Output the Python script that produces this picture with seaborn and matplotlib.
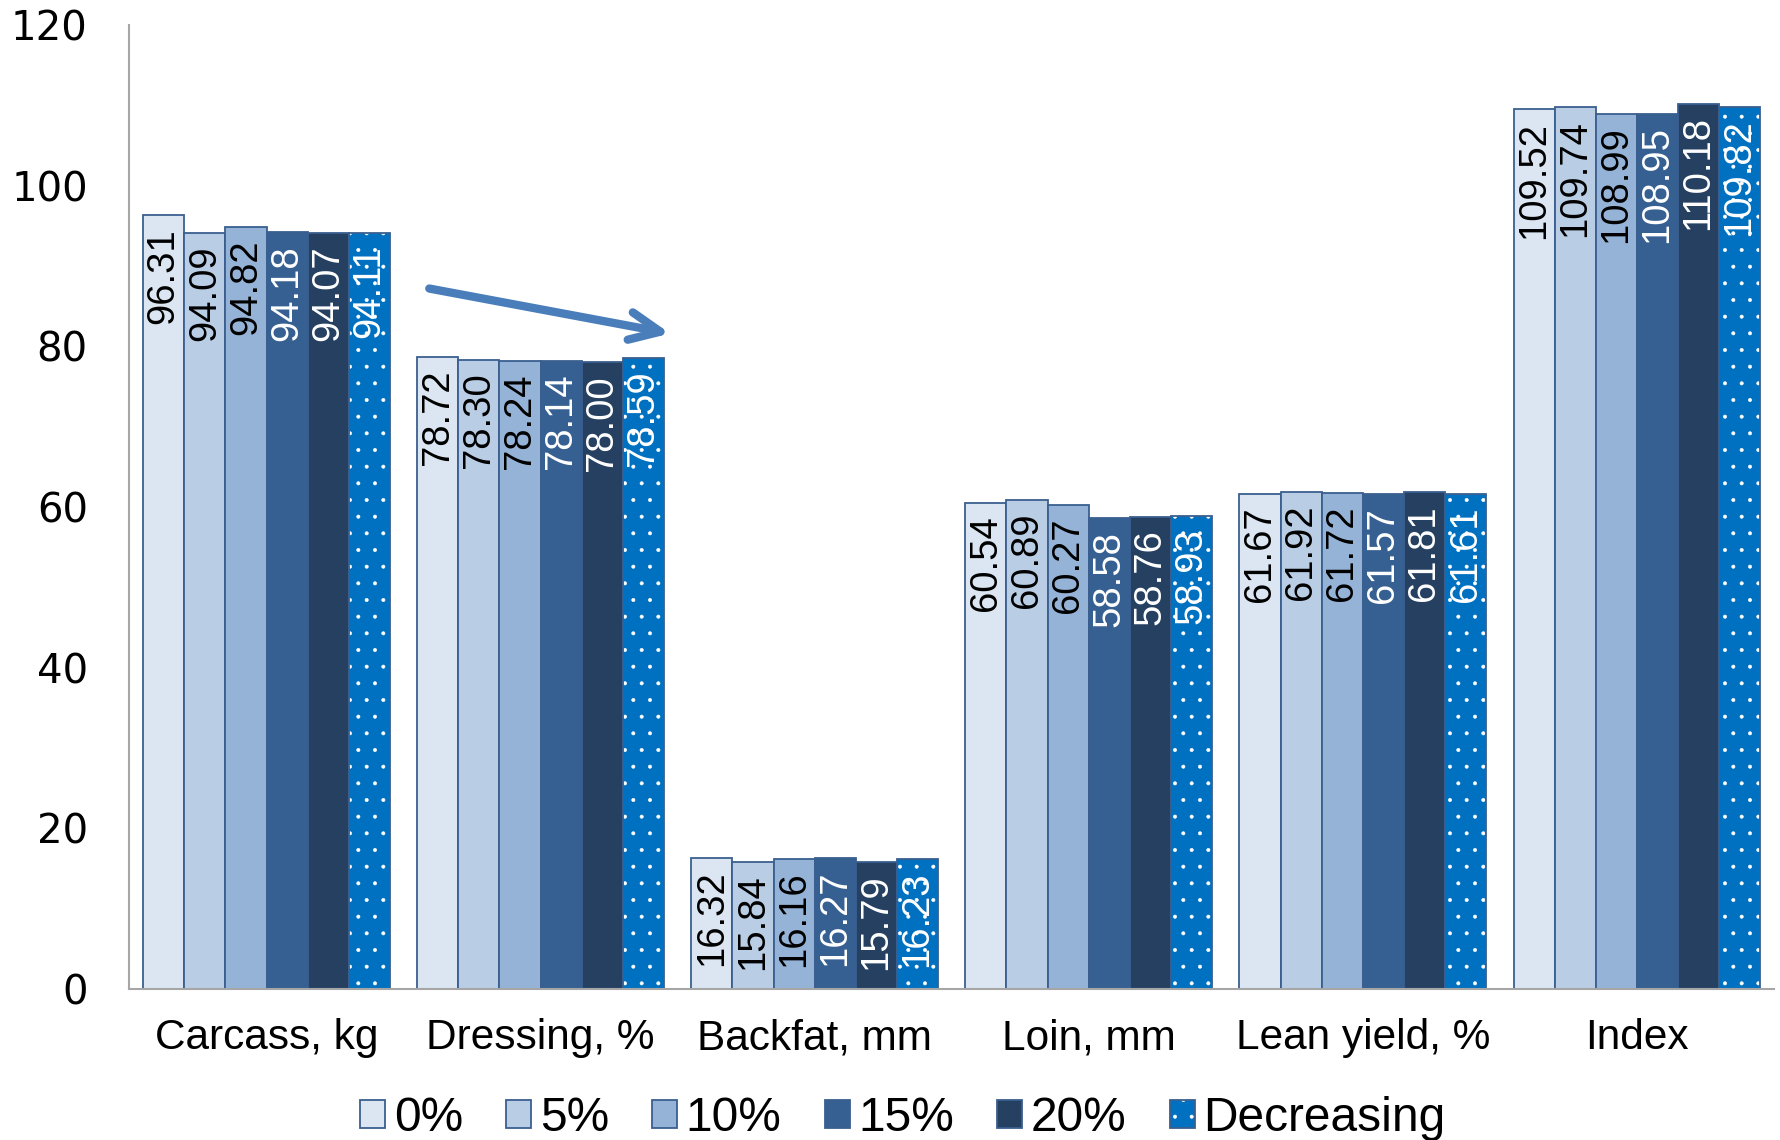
import matplotlib
matplotlib.use("Agg")
import matplotlib.pyplot as plt
from matplotlib.colors import to_rgba
import seaborn as sns
import pandas as pd

# Carcass traits by dietary level
traits = ["Carcass, kg", "Dressing, %", "Backfat, mm", "Loin, mm", "Lean yield, %", "Index"]
levels = ["0%", "5%", "10%", "15%", "20%", "Decreasing"]

carcass = [96.31, 94.09, 94.82, 94.18, 94.07, 94.11]
dressing = [78.72, 78.30, 78.24, 78.14, 78.00, 78.59]
backfat = [16.32, 15.84, 16.16, 16.27, 15.79, 16.23]
loin = [60.54, 60.89, 60.27, 58.58, 58.76, 58.93]
lean_yield = [61.67, 61.92, 61.72, 61.57, 61.81, 61.61]
index = [109.52, 109.74, 108.99, 108.95, 110.18, 109.82]

yticks = [0, 20, 40, 60, 80, 100, 120]

colors = ["#DCE6F2", "#B9CDE5", "#95B3D7", "#376092", "#254061", "#0070C0"]
label_colors = ["black", "black", "black", "white", "white", "white"]

series = [carcass, dressing, backfat, loin, lean_yield, index]
rows = []
for trait, vals in zip(traits, series):
    for lvl, v in zip(levels, vals):
        rows.append({"trait": trait, "level": lvl, "value": v})
df = pd.DataFrame(rows)

sns.set_theme(style="white")
plt.rcParams["font.family"] = ["Liberation Sans", "DejaVu Sans"]
plt.rcParams["text.color"] = "black"
plt.rcParams["xtick.color"] = "black"
plt.rcParams["ytick.color"] = "black"
plt.rcParams["hatch.color"] = "white"
plt.rcParams["hatch.linewidth"] = 0.4

fig = plt.figure(figsize=(17.81, 11.40), dpi=100)
ax = fig.add_axes([0.0727, 0.1325, 0.9233, 0.8455])

sns.barplot(data=df, x="trait", y="value", hue="level", order=traits,
            hue_order=levels, palette=colors, width=0.9, saturation=1,
            edgecolor="#3A5F8F", linewidth=1.3, ax=ax, errorbar=None)


def dot_fill(patch):
    """White dotted fill on top of the face colour."""
    patch.set_hatch(".")
    if hasattr(patch, "set_hatchcolor"):
        patch.set_hatchcolor("white")
    else:
        patch._hatch_color = to_rgba("white")


for p in ax.containers[-1]:
    dot_fill(p)

# value labels inside the bars, reading upward
label_font = ["Liberation Sans Narrow", "Liberation Sans", "DejaVu Sans"]
for ci, cont in enumerate(ax.containers):
    for p, v in zip(cont, [s[ci] for s in series]):
        ax.annotate(f"{v:.2f}", (p.get_x() + p.get_width() / 2, v),
                    xytext=(0, -9), textcoords="offset points",
                    rotation=90, ha="center", va="top",
                    fontsize=27.5, color=label_colors[ci], family=label_font)

# trend arrow over the dressing group
ax.annotate("", xy=(1.473, 81.6), xytext=(0.594, 87.2),
            arrowprops=dict(arrowstyle="->,head_length=1.1,head_width=0.5",
                            mutation_scale=20, color="#4A7EBB", lw=6,
                            shrinkA=0, shrinkB=0,
                            capstyle="round", joinstyle="round"))

ax.set_ylim(0, 120)
ax.set_xlim(-0.5, 5.5)
ax.set_yticks(yticks)
ax.set_xlabel("")
ax.set_ylabel("")
ax.tick_params(axis="y", length=0, pad=30, labelcolor="black")
ax.tick_params(axis="x", length=0, pad=21, labelsize=30.5, labelcolor="black")
for lab in ax.get_yticklabels():
    lab.set_family(["DejaVu Sans"])
    lab.set_fontsize(29)
for side in ["top", "right"]:
    ax.spines[side].set_visible(False)
for side in ["left", "bottom"]:
    ax.spines[side].set_color("#A6A6A6")
    ax.spines[side].set_linewidth(1.5)

handles, labs = ax.get_legend_handles_labels()
if ax.get_legend() is not None:
    ax.get_legend().remove()
leg = fig.legend(handles, labs, loc="center", bbox_to_anchor=(0.507, 0.019),
                 ncol=6, frameon=False, fontsize=34.5, handlelength=0.52,
                 handleheight=0.52, handletextpad=0.18, columnspacing=0.9,
                 borderaxespad=0, borderpad=0, labelcolor="black")
for h in leg.legend_handles[-1:]:
    dot_fill(h)

fig.savefig("out.png", dpi=100)
